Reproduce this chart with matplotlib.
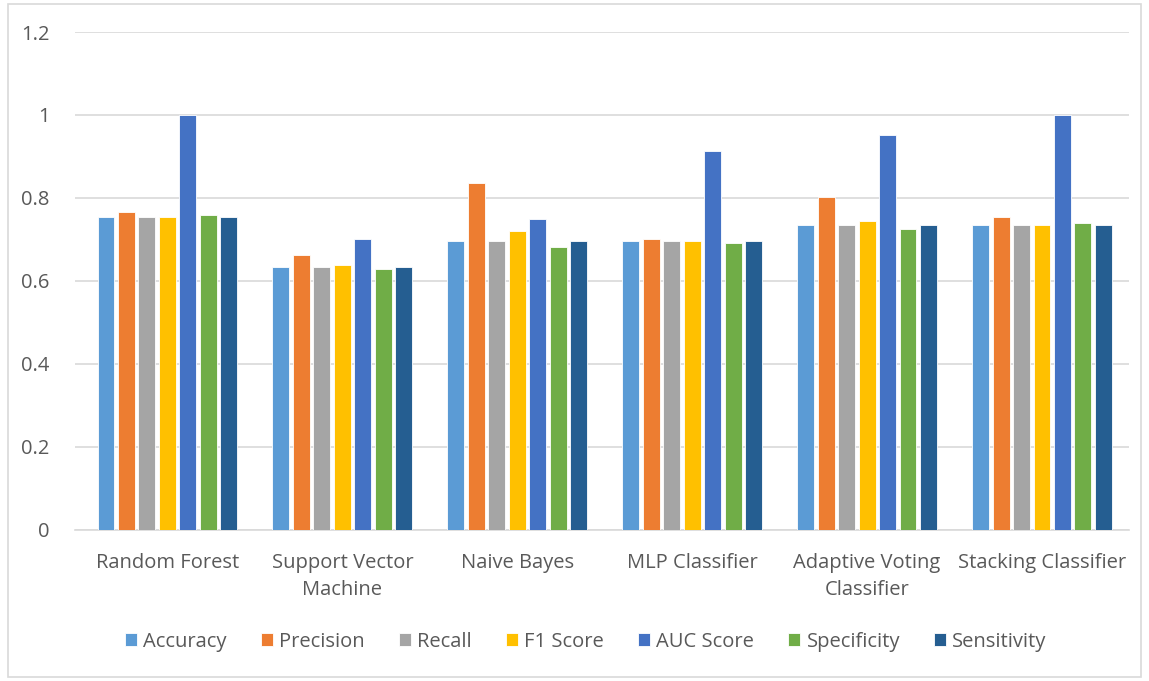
import matplotlib
matplotlib.use("Agg")
import matplotlib.pyplot as plt
import numpy as np
from matplotlib.patches import Rectangle

categories = ["Random Forest", "Support Vector\nMachine", "Naive Bayes", "MLP Classifier",
              "Adaptive Voting\nClassifier", "Stacking Classifier"]
metrics = ["Accuracy", "Precision", "Recall", "F1 Score", "AUC Score", "Specificity", "Sensitivity"]

accuracy    = [0.754, 0.633, 0.696, 0.696, 0.734, 0.734]
precision   = [0.767, 0.662, 0.836, 0.701, 0.802, 0.754]
recall      = [0.754, 0.633, 0.696, 0.696, 0.734, 0.734]
f1_score    = [0.754, 0.638, 0.720, 0.696, 0.744, 0.734]
auc_score   = [1.000, 0.700, 0.749, 0.913, 0.952, 1.000]
specificity = [0.758, 0.628, 0.681, 0.691, 0.725, 0.739]
sensitivity = [0.754, 0.633, 0.696, 0.696, 0.734, 0.734]

series = [accuracy, precision, recall, f1_score, auc_score, specificity, sensitivity]
colors = ["#5B9BD5", "#ED7D31", "#A5A5A5", "#FFC000", "#4472C4", "#70AD47", "#255E91"]

plt.rcParams["font.family"] = ["Open Sans", "DejaVu Sans"]
text_color = "#595959"

fig = plt.figure(figsize=(11.49, 6.81), dpi=100)
fig.patches.append(Rectangle((0.007, 0.006), 0.986, 0.988, transform=fig.transFigure,
                             fill=False, edgecolor="#D9D9D9", linewidth=1.2))
ax = fig.add_axes([0.065, 0.222, 0.918, 0.731])

x = np.arange(len(categories))
step = 0.117
width = 0.097
for i, (vals, col, name) in enumerate(zip(series, colors, metrics)):
    offs = (i - 3) * step
    ax.bar(x + offs, vals, width=width, color=col, label=name,
           edgecolor="white", linewidth=0.6, zorder=3)

ax.set_ylim(0, 1.2)
ax.set_xlim(-0.53, 5.5)
ax.set_yticks(np.arange(0, 1.21, 0.2))
ax.set_yticklabels(["0", "0.2", "0.4", "0.6", "0.8", "1", "1.2"])
ax.set_xticks(x)
ax.set_xticklabels(categories, linespacing=1.45)
ax.tick_params(axis="both", length=0, colors=text_color, labelsize=14.5)
ax.tick_params(axis="y", pad=18)
ax.tick_params(axis="x", pad=17)
ax.yaxis.grid(True, color="#D9D9D9", linewidth=1.2, zorder=0)
for s in ["top", "right", "left"]:
    ax.spines[s].set_visible(False)
ax.spines["bottom"].set_color("#D9D9D9")
ax.spines["bottom"].set_linewidth(1.2)

leg = fig.legend(loc="center", bbox_to_anchor=(0.51, 0.058), ncol=7, frameon=False,
                 fontsize=14.5, handlelength=0.6, handleheight=0.6, handletextpad=0.3,
                 columnspacing=1.7)
for t in leg.get_texts():
    t.set_color(text_color)

fig.savefig("out.png", dpi=100)
